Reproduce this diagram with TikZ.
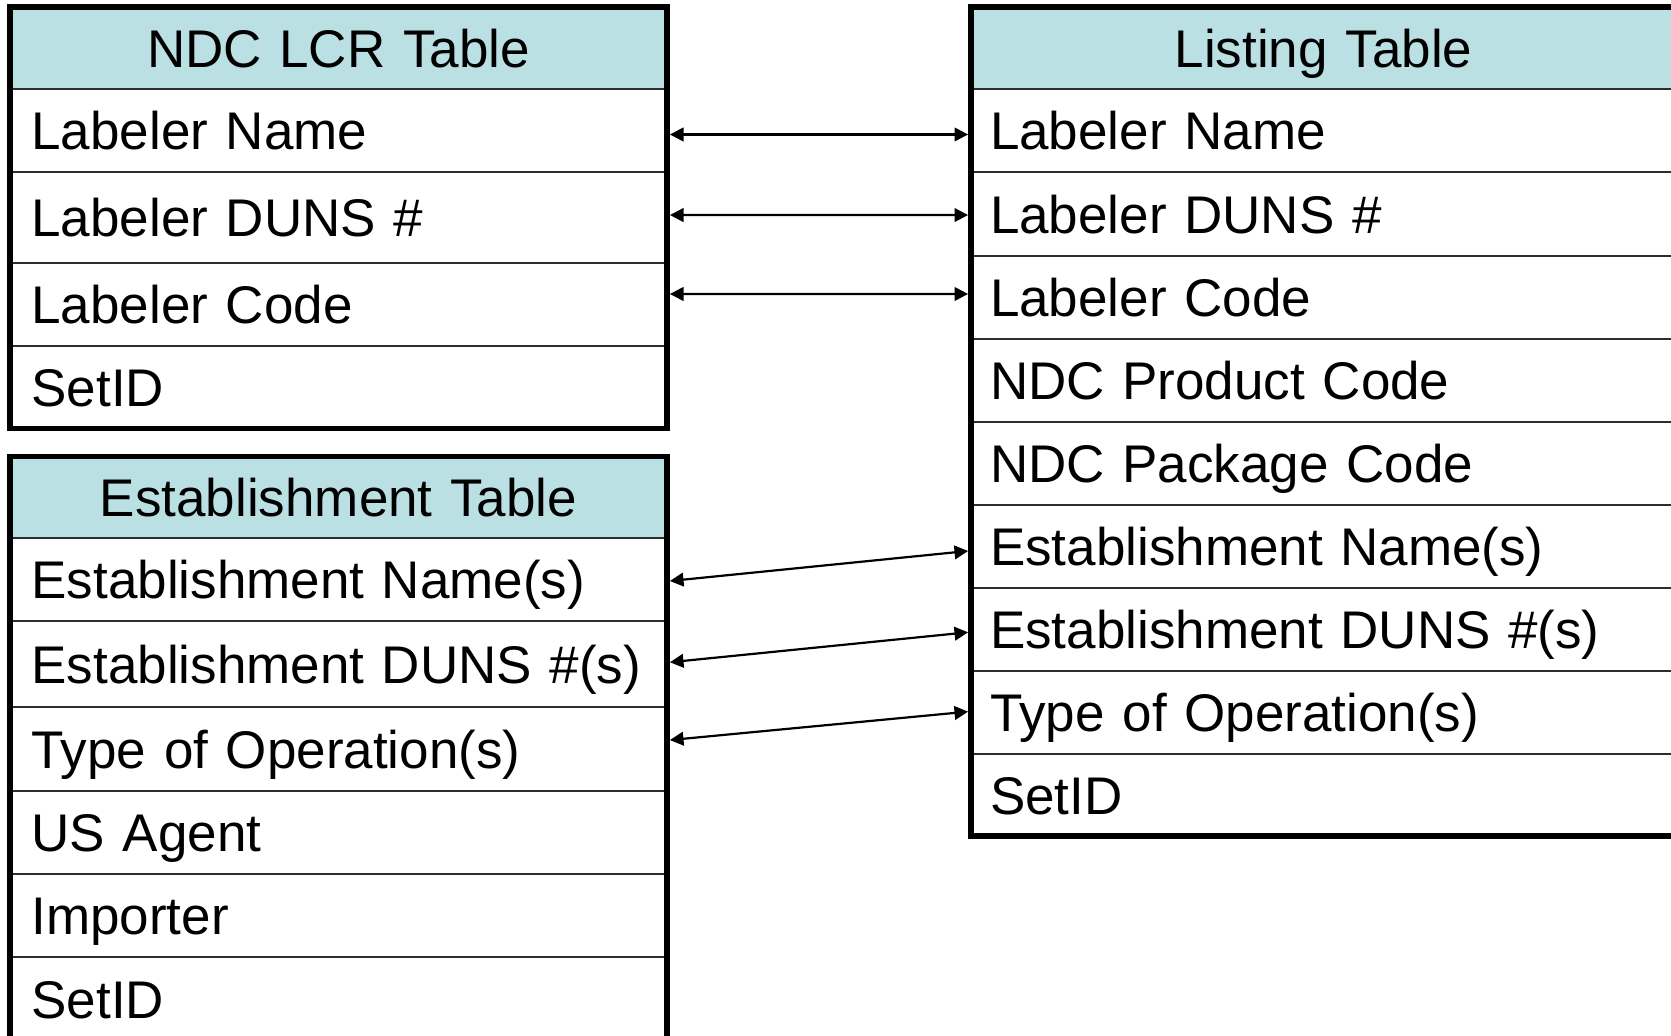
\documentclass[tikz,border=0pt]{standalone}
\usepackage{fontspec}
\setmainfont{Liberation Sans}
\usetikzlibrary{arrows.meta,calc}

\definecolor{hdr}{RGB}{186,224,228}
\definecolor{rule}{RGB}{45,45,45}

\tikzset{
  % one unit = one pixel of the 1671 x 1036 layout, y grows downwards
  x=0.5pt, y=-0.5pt,
  cell/.style={draw=none, inner ysep=0pt, outer sep=0pt, anchor=north west,
    align=left, text height=19pt, text depth=0pt,
    font=\fontsize{26.5pt}{32pt}\selectfont},
  rowh/.style={minimum height=#1*0.5pt},
  lcol/.style={inner xsep=10.75pt, text width=307pt},
  rcol/.style={inner xsep=9.5pt, text width=333.5pt},
  head/.style={fill=hdr, align=center},
  sepline/.style={draw=rule, line width=1pt},
  frame/.style={draw=black, line width=2.85pt},
  link/.style={draw=black, line width=1.1pt,
    {Triangle[length=6.8pt,width=6.8pt]}-{Triangle[length=6.8pt,width=6.8pt]}}
}

\begin{document}
\begin{tikzpicture}
\useasboundingbox (0,0) rectangle (1671,1036);
\clip (0,0) rectangle (1671,1036);

% NDC LCR table
\node[cell, lcol, head, rowh=82.5] (a0) at (10,7)     {NDC LCR Table};
\node[cell, lcol, rowh=83]         (a1) at (10,89.5)  {Labeler Name};
\node[cell, lcol, rowh=90.5]       (a2) at (10,172.5) {Labeler DUNS \#};
\node[cell, lcol, rowh=83]         (a3) at (10,263)   {Labeler Code};
\node[cell, lcol, rowh=82.5]       (a4) at (10,346)   {SetID};

% Establishment table
\node[cell, lcol, head, rowh=81.5] (b0) at (10,456.5) {Establishment Table};
\node[cell, lcol, rowh=83]         (b1) at (10,538)   {Establishment Name(s)};
\node[cell, lcol, rowh=86.5]       (b2) at (10,621)   {Establishment DUNS \#(s)};
\node[cell, lcol, rowh=83.5]       (b3) at (10,707.5) {Type of Operation(s)};
\node[cell, lcol, rowh=83]         (b4) at (10,791)   {US Agent};
\node[cell, lcol, rowh=83]         (b5) at (10,874)   {Importer};
\node[cell, lcol, rowh=84]         (b6) at (10,957)   {SetID};

% Listing table
\node[cell, rcol, head, rowh=82.5] (c0) at (971,7)     {Listing Table};
\node[cell, rcol, rowh=83]         (c1) at (971,89.5)  {Labeler Name};
\node[cell, rcol, rowh=83.3]       (c2) at (971,172.5) {Labeler DUNS \#};
\node[cell, rcol, rowh=83.2]       (c3) at (971,255.8) {Labeler Code};
\node[cell, rcol, rowh=83]         (c4) at (971,339)   {NDC Product Code};
\node[cell, rcol, rowh=83]         (c5) at (971,422)   {NDC Package Code};
\node[cell, rcol, rowh=83]         (c6) at (971,505)   {Establishment Name(s)};
\node[cell, rcol, rowh=83]         (c7) at (971,588)   {Establishment DUNS \#(s)};
\node[cell, rcol, rowh=83.3]       (c8) at (971,671)   {Type of Operation(s)};
\node[cell, rcol, rowh=81.7]       (c9) at (971,754.3) {SetID};

% row separators
\foreach \r in {a0,a1,a2,a3,b0,b1,b2,b3,b4,b5,c0,c1,c2,c3,c4,c5,c6,c7,c8}
  \draw[sepline] (\r.south west) -- (\r.south east);

% table outlines
\draw[frame] (a0.north west) rectangle (a4.south east);
\draw[frame] (b0.north west) rectangle (b6.south east);
\draw[frame] (c0.north west) rectangle (c9.south east);

% field links between the tables
\draw[link] ($(a1.east)+(2.9,3.5)$)  -- ($(c1.west)+(-2.9,3.5)$);
\draw[link] ($(a2.east)+(2.9,-2.7)$) -- ($(c2.west)+(-2.9,0.9)$);
\draw[link] ($(a3.east)+(2.9,-10.5)$) -- ($(c3.west)+(-2.9,-3.4)$);
\draw[link] ($(b1.east)+(2.9,1.5)$)  -- ($(c6.west)+(-2.9,4.5)$);
\draw[link] ($(b2.east)+(2.9,-2)$)   -- ($(c7.west)+(-2.9,2.8)$);
\draw[link] ($(b3.east)+(2.9,-9.2)$) -- ($(c8.west)+(-2.9,-1)$);
\end{tikzpicture}
\end{document}
